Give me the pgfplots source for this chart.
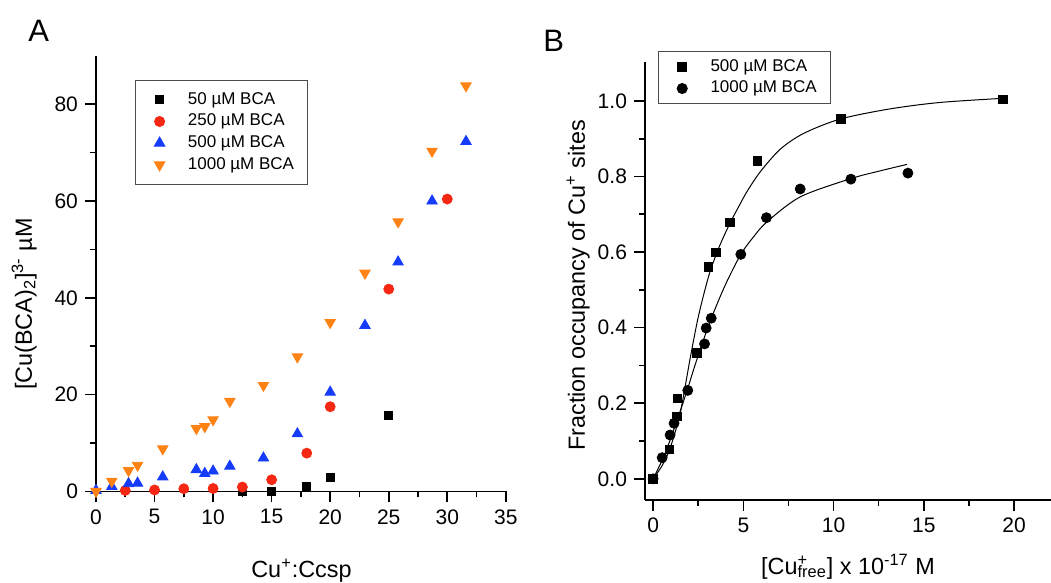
\documentclass[border=0pt]{standalone}
\usepackage{fontspec}
\setmainfont{Liberation Sans}
\usepackage{pgfplots}
\pgfplotsset{compat=1.18}

\definecolor{cred}{RGB}{246,40,20}
\definecolor{cblue}{RGB}{20,60,250}
\definecolor{corange}{RGB}{255,130,20}

\pgfplotsset{
  panel/.style={
    scale only axis,
    axis x line*=bottom, axis y line*=left,
    axis line style={line width=0.8pt},
    every tick/.style={black, line width=0.8pt},
    tick align=outside,
    major tick length=5.5pt, minor tick length=3pt,
    minor tick num=1,
    tick label style={font=\fontsize{10.5}{12}\selectfont},
    label style={font=\fontsize{11.7}{14}\selectfont},
    /pgf/number format/assume math mode=true,
    clip=false,
    legend cell align=left,
    legend style={draw=black!70, line width=0.5pt, outer sep=0pt,
      font=\fontsize{8.5}{10}\selectfont, anchor=north west,
      inner xsep=4.7pt, column sep=4.9pt, row sep=0pt,
      nodes={inner xsep=2pt, inner ysep=0pt, text height=7.6pt, text depth=3.25pt}},
  },
  % legend image: one mark 7pt in, cell 14pt wide
  lg/.style={legend image code/.code={%
      \path (0pt,0pt) (14pt,0pt);
      \draw[##1] plot coordinates {(7pt,0pt)};}},
}

\begin{document}
\begin{tikzpicture}
\useasboundingbox (0pt,0pt) rectangle (525.5pt,291.5pt);

\node[anchor=base west, inner sep=0pt, font=\fontsize{15.5}{18}\selectfont] at (14pt,270.5pt) {A};
\node[anchor=base west, inner sep=0pt, font=\fontsize{15.5}{18}\selectfont] at (271.5pt,265.5pt) {B};

% panel A
\begin{axis}[panel,
  at={(48pt,45.8pt)}, anchor=south west,
  width=205.5pt, height=217.8pt,
  xmin=0, xmax=35.1, ymin=0, ymax=90,
  xtick={0,5,...,35}, ytick={0,20,...,80},
  xlabel={Cu\textsuperscript{+}:Ccsp},
  ylabel={[Cu(BCA)\textsubscript{2}]\textsuperscript{3-} µM},
  x label style={at={(axis description cs:0.5,-0.198)}, anchor=base},
  y label style={at={(axis description cs:-0.156,0.43)}, anchor=base},
  legend style={at={(axis description cs:0.0966,0.943)}, inner ysep=4.15pt},
]
\addplot[only marks, lg, mark=square*, mark size=2pt, black] coordinates {
  (12.5,0.1) (15,0.1) (18,1.0) (20,2.9) (25,15.7)};
\addlegendentry{50 µM BCA}
\addplot[only marks, lg, mark=*, mark size=2.5pt, cred] coordinates {
  (2.5,0.2) (5,0.3) (7.5,0.55) (10,0.6) (12.5,0.9) (15,2.4) (18,7.9)
  (20,17.5) (25,41.8) (30,60.4)};
\addlegendentry{250 µM BCA}
\addplot[only marks, lg, mark=triangle*, mark size=3pt, cblue] coordinates {
  (0,0.2) (1.35,1.0) (2.78,1.6) (3.55,1.7) (5.7,3.0) (8.57,4.5) (9.29,3.7)
  (10,4.2) (11.43,5.2) (14.3,6.9) (17.2,11.9) (20,20.5) (22.97,34.3)
  (25.8,47.4) (28.7,60.0) (31.6,72.3)};
\addlegendentry{500 µM BCA}
\addplot[only marks, lg, mark=triangle*, mark size=3pt, mark options={rotate=180}, corange] coordinates {
  (0,0) (1.35,2.1) (2.78,4.3) (3.55,5.4) (5.7,8.8) (8.57,13.0) (9.29,13.4)
  (10,14.8) (11.43,18.6) (14.3,21.9) (17.2,27.8) (20,34.9) (22.97,45.1)
  (25.8,55.7) (28.7,70.3) (31.6,83.8)};
\addlegendentry{1000 µM BCA}
\end{axis}

% panel B
\begin{axis}[panel,
  at={(322.5pt,41.5pt)}, anchor=south west,
  width=203pt, height=219pt,
  xmin=-0.45, xmax=22.05, ymin=-0.056, ymax=1.103,
  xtick={0,5,...,20}, ytick={0,0.2,...,1.0},
  yticklabel style={/pgf/number format/.cd, fixed, fixed zerofill, precision=1},
  xlabel={[Cu\rlap{\textsuperscript{+}}\textsubscript{free}] x 10\textsuperscript{-17} M},
  ylabel={Fraction occupancy of Cu\textsuperscript{+} sites},
  x label style={at={(axis description cs:0.5,-0.169)}, anchor=base},
  y label style={at={(axis description cs:-0.148,0.49)}, anchor=base},
  legend style={at={(axis description cs:0.0328,1.024)}, inner ysep=2.25pt},
]
\addplot[only marks, lg, mark=square*, mark size=2.15pt, black] coordinates {
  (0,0) (0.91,0.078) (1.31,0.165) (1.35,0.213) (2.42,0.334) (3.07,0.560)
  (3.49,0.599) (4.27,0.679) (5.77,0.842) (10.41,0.952) (19.37,1.004)};
\addlegendentry{500 µM BCA}
\addplot[only marks, lg, mark=*, mark size=2.5pt, black] coordinates {
  (0,0) (0.5,0.056) (0.94,0.116) (1.16,0.147) (1.92,0.234) (2.85,0.357)
  (2.94,0.399) (3.22,0.425) (4.86,0.594) (6.28,0.691) (8.15,0.767)
  (10.96,0.793) (14.12,0.809)};
\addlegendentry{1000 µM BCA}
% fitted curves
\addplot[forget plot, black, line width=0.5pt, smooth] coordinates {
  (0,0) (0.5,0.035) (0.94,0.081) (1.5,0.174) (2.05,0.318) (2.51,0.430)
  (3.07,0.535) (3.53,0.598) (3.90,0.640) (4.36,0.686) (4.83,0.728)
  (5.20,0.760) (5.93,0.812) (7.04,0.872) (8.34,0.914) (10.37,0.952)
  (13.14,0.979) (15.92,0.996) (19.43,1.007)};
\addplot[forget plot, black, line width=0.5pt, smooth] coordinates {
  (0,0) (0.67,0.068) (1.4,0.165) (1.87,0.232) (2.33,0.302) (2.88,0.38)
  (3.25,0.428) (3.99,0.512) (4.86,0.594) (5.56,0.640) (6.31,0.680)
  (8.15,0.746) (10.93,0.794) (12.59,0.815) (14.07,0.832)};
\end{axis}
\end{tikzpicture}
\end{document}
